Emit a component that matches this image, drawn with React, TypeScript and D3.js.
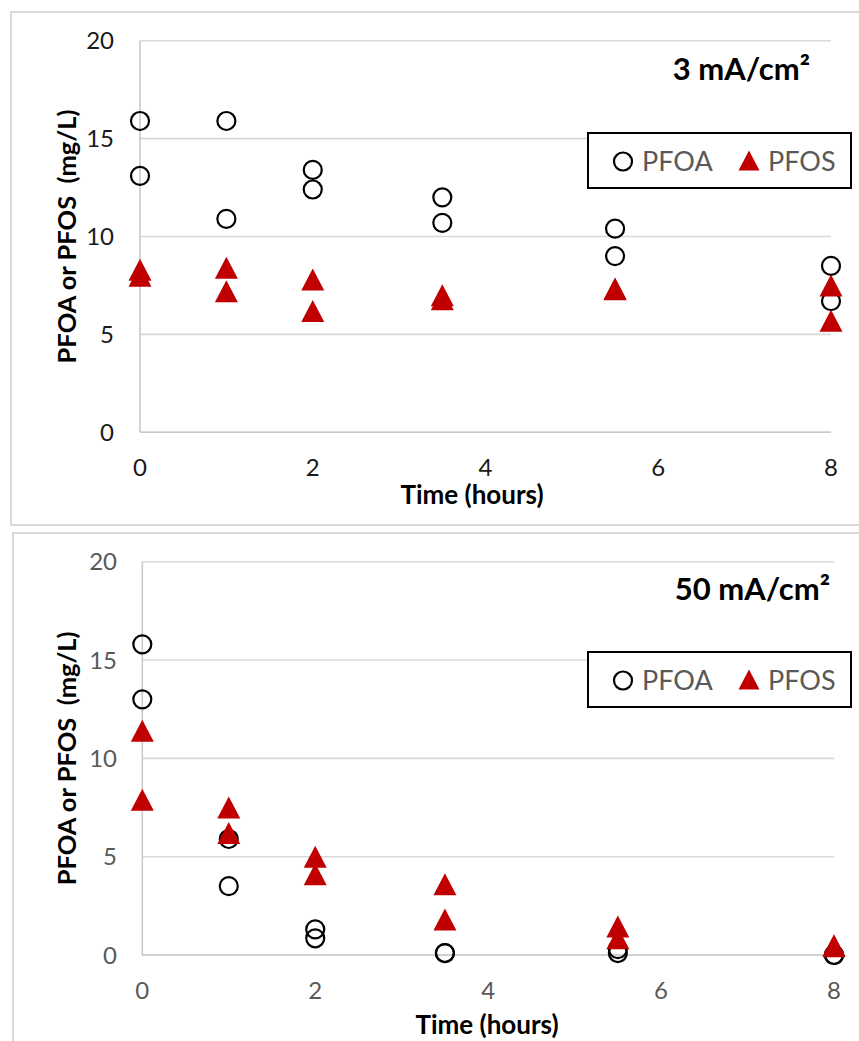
import React from "react";
import * as d3 from "d3";

// Sampling times (hours)
const hours = [0, 1, 2, 3.5, 5.5, 8];

// 3 mA/cm² run, duplicate samples
const lowPfoaA = [15.9, 15.9, 13.4, 12.0, 10.4, 8.5];
const lowPfoaB = [13.1, 10.9, 12.4, 10.7, 9.0, 6.7];
const lowPfosA = [8.3, 8.4, 7.8, 7.0, 7.35, 7.5];
const lowPfosB = [8.0, 7.2, 6.2, 6.8, 7.3, 5.7];

// 50 mA/cm² run, duplicate samples
const highPfoaA = [15.8, 5.9, 1.3, 0.1, 0.3, 0.0];
const highPfoaB = [13.0, 3.5, 0.85, 0.1, 0.1, 0.0];
const highPfosA = [11.4, 7.5, 5.0, 3.6, 1.45, 0.5];
const highPfosB = [7.9, 6.2, 4.1, 1.8, 0.85, 0.45];

const xTicks = [0, 2, 4, 6, 8];
const yTicks = [0, 5, 10, 15, 20];

const FONT = "Lato, 'Open Sans', sans-serif";
const RED = "#C00000";
const GRID = "#d9d9d9";

type PanelProps = {
  frame: { x: number; y: number; w: number; h: number };
  plot: { left: number; right: number; top: number; bottom: number };
  title: string;
  titleRight: number;
  titleBaseline: number;
  tickColor: string;
  yLabelRight: number;
  xLabelY: number;
  xTitle: { x: number; y: number };
  yTitleX: number;
  legend: { x: number; y: number; w: number; h: number };
  pfoa: number[][];
  pfos: number[][];
};

function trianglePath(cx: number, cy: number, w = 23, h = 22) {
  return `M${cx},${cy - h / 2}L${cx + w / 2},${cy + h / 2}L${cx - w / 2},${cy + h / 2}Z`;
}

function Panel(p: PanelProps) {
  const x = d3.scaleLinear().domain([0, 8]).range([p.plot.left, p.plot.right]);
  const y = d3.scaleLinear().domain([0, 20]).range([p.plot.bottom, p.plot.top]);
  const lg = p.legend;
  const lgCy = lg.y + lg.h / 2 + 1;
  return (
    <g>
      <rect x={p.frame.x} y={p.frame.y} width={p.frame.w} height={p.frame.h} fill="#fff" stroke={GRID} strokeWidth={2} />
      {yTicks.map((t) => (
        <line key={"g" + t} x1={x(0)} x2={x(8)} y1={y(t)} y2={y(t)} stroke={GRID} strokeWidth={1.6} />
      ))}
      <line x1={x(0)} x2={x(0)} y1={y(20)} y2={y(0)} stroke="#c9c9c9" strokeWidth={1.6} />
      <line x1={x(0)} x2={x(8)} y1={y(0)} y2={y(0)} stroke="#c9c9c9" strokeWidth={1.6} />
      {yTicks.map((t) => (
        <text key={"yl" + t} x={p.yLabelRight} y={y(t)} dy="0.36em" textAnchor="end" fontFamily={FONT} fontSize={24} fill={p.tickColor}>
          {t}
        </text>
      ))}
      {xTicks.map((t) => (
        <text key={"xl" + t} x={x(t)} y={p.xLabelY} dy="0.36em" textAnchor="middle" fontFamily={FONT} fontSize={24} fill={p.tickColor}>
          {t}
        </text>
      ))}
      <text x={p.xTitle.x} y={p.xTitle.y} dy="0.36em" textAnchor="middle" fontFamily={FONT} fontSize={26} fontWeight="bold" fill="#000">
        Time (hours)
      </text>
      <text
        transform={`translate(${p.yTitleX},${(y(0) + y(20)) / 2}) rotate(-90)`}
        dy="0.36em"
        textAnchor="middle"
        fontFamily={FONT}
        fontSize={25.5}
        fontWeight="bold"
        fill="#000"
        style={{ whiteSpace: "pre" }}
      >
        {"PFOA or PFOS  (mg/L)"}
      </text>
      <text x={p.titleRight} y={p.titleBaseline} textAnchor="end" fontFamily={FONT} fontSize={31} fontWeight="bold" fill="#000">
        {p.title}
      </text>
      {p.pfoa.map((series, si) =>
        series.map((v, i) => (
          <circle key={`c${si}-${i}`} cx={x(hours[i])} cy={y(v)} r={9} fill="none" stroke="#000" strokeWidth={2.2} />
        ))
      )}
      {p.pfos.map((series, si) =>
        series.map((v, i) => <path key={`t${si}-${i}`} d={trianglePath(x(hours[i]), y(v))} fill={RED} />)
      )}
      <rect x={lg.x} y={lg.y} width={lg.w} height={lg.h} fill="#fff" stroke="#000" strokeWidth={2} />
      <circle cx={lg.x + 35} cy={lgCy} r={9} fill="none" stroke="#000" strokeWidth={2.2} />
      <text x={lg.x + 54} y={lgCy} dy="0.36em" fontFamily={FONT} fontSize={27} fill="#595959">
        PFOA
      </text>
      <path d={trianglePath(lg.x + 161, lgCy - 1, 21, 20)} fill={RED} />
      <text x={lg.x + 180} y={lgCy} dy="0.36em" fontFamily={FONT} fontSize={27} fill="#595959">
        PFOS
      </text>
    </g>
  );
}

export default function App() {
  return (
    <svg width={859} height={1041} style={{ position: "absolute", left: 0, top: 0, background: "#fff" }}>
      <rect width={859} height={1041} fill="#fff" />
      <Panel
        frame={{ x: 11, y: 12, w: 860, h: 513 }}
        plot={{ left: 140, right: 831, top: 40.7, bottom: 432.3 }}
        title="3 mA/cm²"
        titleRight={810}
        titleBaseline={80}
        tickColor="#1a1a1a"
        yLabelRight={114}
        xLabelY={467}
        xTitle={{ x: 472, y: 495 }}
        yTitleX={67}
        legend={{ x: 588, y: 133, w: 263, h: 55 }}
        pfoa={[lowPfoaA, lowPfoaB]}
        pfos={[lowPfosA, lowPfosB]}
      />
      <Panel
        frame={{ x: 13, y: 533, w: 860, h: 530 }}
        plot={{ left: 142.3, right: 834, top: 561.7, bottom: 955 }}
        title="50 mA/cm²"
        titleRight={830}
        titleBaseline={600}
        tickColor="#595959"
        yLabelRight={117}
        xLabelY={990}
        xTitle={{ x: 487, y: 1025 }}
        yTitleX={67}
        legend={{ x: 588, y: 652, w: 263, h: 55 }}
        pfoa={[highPfoaA, highPfoaB]}
        pfos={[highPfosA, highPfosB]}
      />
    </svg>
  );
}
